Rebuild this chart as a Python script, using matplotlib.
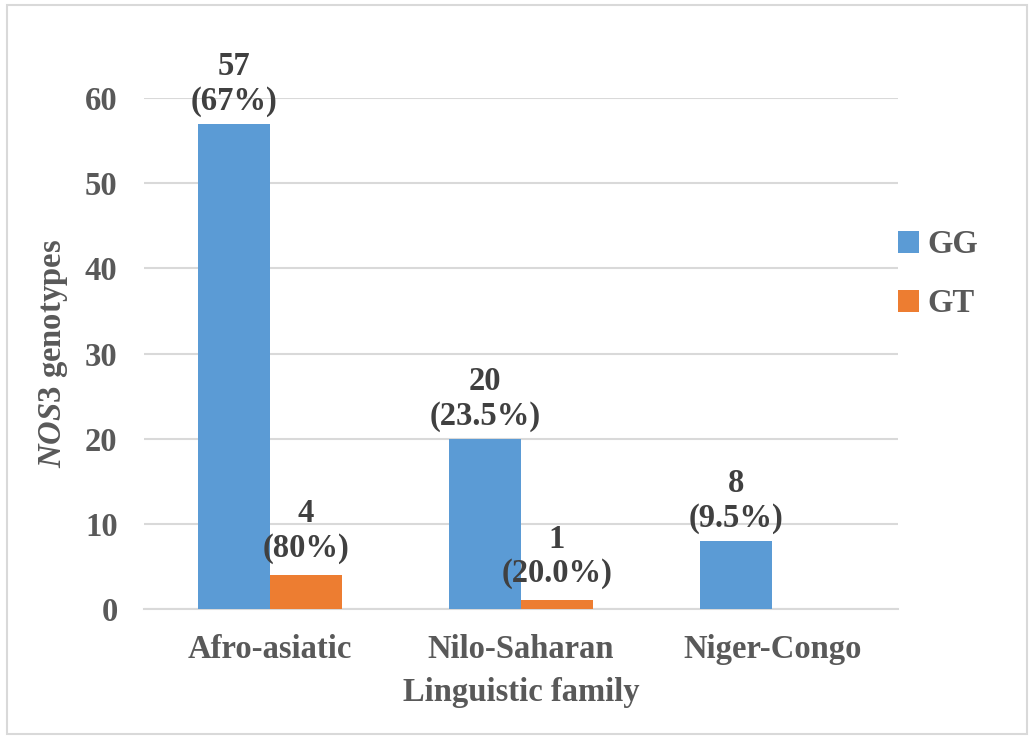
import numpy as np
import matplotlib.pyplot as plt
from matplotlib.patches import Rectangle

plt.rcParams['font.family'] = ['Liberation Serif', 'DejaVu Serif']
plt.rcParams['mathtext.fontset'] = 'custom'
plt.rcParams['mathtext.it'] = 'Liberation Serif:italic:bold'
plt.rcParams['mathtext.rm'] = 'Liberation Serif:bold'

families = ['Afro-asiatic', 'Nilo-Saharan', 'Niger-Congo']
gg = [57, 20, 8]
gt = [4, 1, None]
gg_pct = ['67%', '23.5%', '9.5%']
gt_pct = ['80%', '20.0%', None]

blue = '#5B9BD5'
orange = '#ED7D31'
txt = '#404040'
tick_col = '#595959'
fs = 23.5

fig = plt.figure(figsize=(10.3, 7.38), dpi=100)
ax = fig.add_axes([0.1398, 0.1748, 0.732, 0.6924])

x = np.arange(len(families))
w = 0.287
gt_vals = [v if v is not None else 0 for v in gt]
ax.bar(x - w / 2, gg, w, color=blue, label='GG', zorder=3)
ax.bar(x[:2] + w / 2, gt_vals[:2], w, color=orange, label='GT', zorder=3)

for i, v in enumerate(gg):
    ax.annotate(f'{v}\n({gg_pct[i]})', xy=(x[i] - w / 2, v), xytext=(0, 5),
                textcoords='offset points', ha='center', va='bottom',
                fontsize=fs, fontweight='bold', color=txt, linespacing=1.15)
for i, v in enumerate(gt):
    if v is None:
        continue
    ax.annotate(f'{v}\n({gt_pct[i]})', xy=(x[i] + w / 2, v), xytext=(0, 8),
                textcoords='offset points', ha='center', va='bottom',
                fontsize=fs, fontweight='bold', color=txt, linespacing=1.15)

ax.set_xlim(-0.5, 2.5)
ax.set_ylim(0, 60)
ax.set_yticks(np.arange(0, 61, 10))
ax.yaxis.grid(True, color='#d9d9d9', lw=1.5, zorder=0)
ax.set_axisbelow(True)
for s in ['top', 'right', 'left']:
    ax.spines[s].set_visible(False)
ax.spines['bottom'].set_color('#d9d9d9')
ax.spines['bottom'].set_linewidth(1.5)
ax.tick_params(axis='both', length=0, labelsize=fs, labelcolor=tick_col)
ax.set_xticks(x)
ax.set_xticklabels(families, fontweight='bold')
for lab in ax.get_yticklabels():
    lab.set_fontweight('bold')
ax.tick_params(axis='y', pad=19)
ax.tick_params(axis='x', pad=18)

ax.set_xlabel('Linguistic family', fontsize=fs, fontweight='bold', color=tick_col, labelpad=9)
ax.set_ylabel(r'$\mathit{NOS3}$ genotypes', fontsize=fs, fontweight='bold', color=tick_col, labelpad=11)

ax.legend(loc='center left', bbox_to_anchor=(1.0, 0.655), frameon=False,
          prop={'weight': 'bold', 'size': fs}, handlelength=0.65, handleheight=0.65,
          handletextpad=0.25, labelspacing=0.85, borderpad=0, borderaxespad=0,
          labelcolor=tick_col)

fig.patches.append(Rectangle((0.007, 0.005), 0.99, 0.988, transform=fig.transFigure,
                             fill=False, edgecolor='#d9d9d9', lw=1.5))

plt.savefig('out.png', dpi=100)
